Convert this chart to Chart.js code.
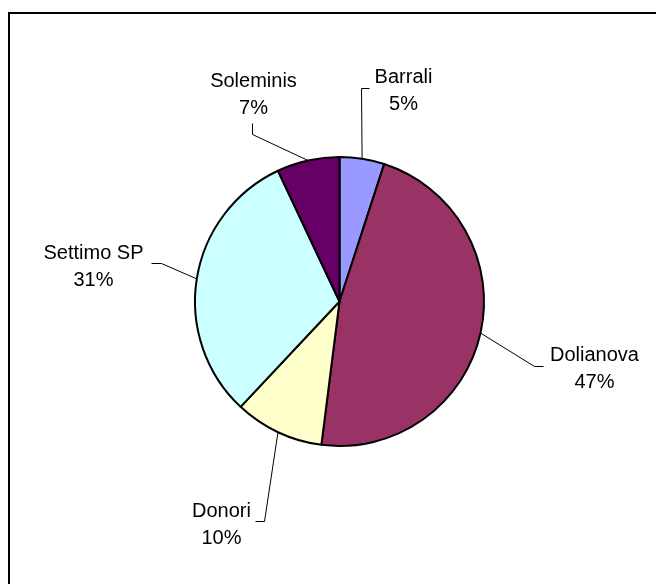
<!DOCTYPE html>
<html>
<head>
<meta charset="utf-8">
<script src="https://cdn.jsdelivr.net/npm/chart.js@4/dist/chart.umd.min.js"></script>
<style>
    body { margin: 0; background: #fff; overflow: hidden; }
    #wrap { position: relative; width: 656px; height: 584px; }
</style>
</head>
<body>
<div id="wrap"><canvas id="myChart"></canvas></div>
<script>
const labels = ['Barrali', 'Dolianova', 'Donori', 'Settimo SP', 'Soleminis'];
const values = [5, 47, 10, 31, 7];
const colors = ['#9999FF', '#993366', '#FFFFCC', '#CCFFFF', '#660066'];

// where each label sits, relative to the pie centre (text centre, leader elbow, leader end)
const labelLayout = [
    { tx: 64, ty: -213, ex: 22, ey: -213, fx: 30, fy: -213 },
    { tx: 255, ty: 65, ex: 195, ey: 65, fx: 204, fy: 65 },
    { tx: -118, ty: 221, ex: -75, ey: 220, fx: -84, fy: 220 },
    { tx: -246, ty: -37, ex: -178, ey: -38, fx: -188, fy: -38 },
    { tx: -86, ty: -209, ex: -87, ey: -167, fx: -87, fy: -178 },
];

// chart frame: only its left and top edges are inside the picture
const frame = {
    id: 'frame',
    beforeDraw(chart) {
        const ctx = chart.ctx;
        ctx.save();
        ctx.fillStyle = '#fff';
        ctx.fillRect(0, 0, chart.width, chart.height);
        ctx.strokeStyle = '#000';
        ctx.lineWidth = 2;
        ctx.beginPath();
        ctx.moveTo(9, chart.height + 5);
        ctx.lineTo(9, 13);
        ctx.lineTo(chart.width + 5, 13);
        ctx.stroke();
        ctx.restore();
    }
};

const pieLabels = {
    id: 'pieLabels',
    afterDatasetsDraw(chart) {
        const ctx = chart.ctx;
        const meta = chart.getDatasetMeta(0);
        const total = values.reduce((a, b) => a + b, 0);
        ctx.save();
        meta.data.forEach((arc, i) => {
            const p = arc.getProps(['x', 'y', 'startAngle', 'endAngle', 'outerRadius'], true);
            const mid = (p.startAngle + p.endAngle) / 2;
            const lay = labelLayout[i];
            const sx = p.x + Math.cos(mid) * p.outerRadius;
            const sy = p.y + Math.sin(mid) * p.outerRadius;
            ctx.strokeStyle = '#000';
            ctx.lineWidth = 1;
            ctx.beginPath();
            ctx.moveTo(sx, sy);
            ctx.lineTo(p.x + lay.ex, p.y + lay.ey);
            ctx.lineTo(p.x + lay.fx, p.y + lay.fy);
            ctx.stroke();

            ctx.fillStyle = '#000';
            ctx.font = '20px "Liberation Sans", Arial, sans-serif';
            ctx.textAlign = 'center';
            ctx.textBaseline = 'alphabetic';
            const pct = Math.round(values[i] / total * 100) + '%';
            ctx.fillText(labels[i], p.x + lay.tx, p.y + lay.ty - 6);
            ctx.fillText(pct, p.x + lay.tx, p.y + lay.ty + 21);
        });
        ctx.restore();
    }
};

new Chart(document.getElementById('myChart'), {
    type: 'pie',
    data: {
        labels: labels,
        datasets: [{
            data: values,
            backgroundColor: colors,
            borderColor: '#000',
            borderWidth: 2,
            hoverOffset: 0,
            offset: 0
        }]
    },
    options: {
        responsive: true,
        maintainAspectRatio: false,
        animation: false,
        events: [],
        layout: {
            padding: { left: 194, right: 171, top: 156, bottom: 137 }
        },
        plugins: {
            legend: { display: false },
            tooltip: { enabled: false }
        }
    },
    plugins: [frame, pieLabels]
});
</script>
</body>
</html>
